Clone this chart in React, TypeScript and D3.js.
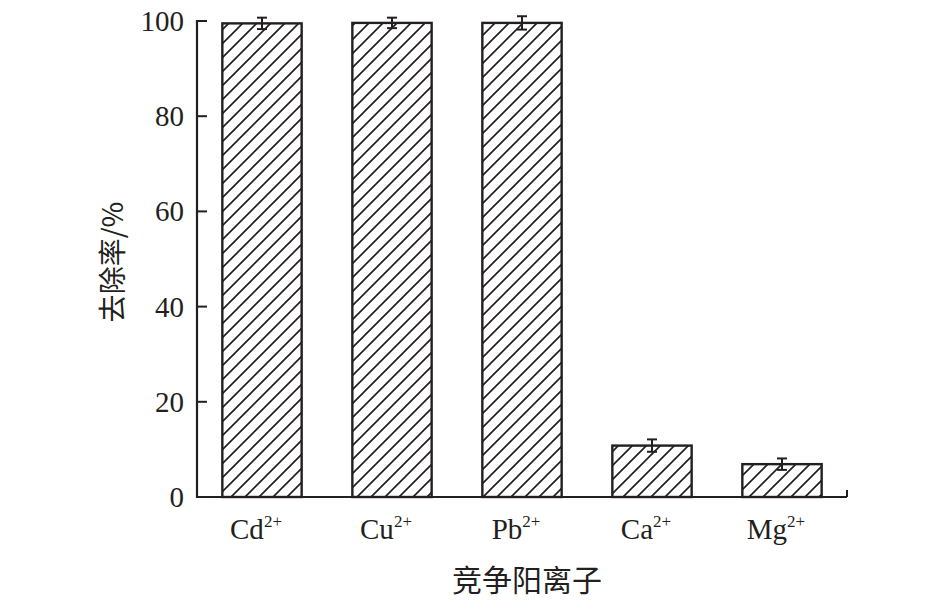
import React from "react";
import * as d3 from "d3";

const categories = ["Cd", "Cu", "Pb", "Ca", "Mg"];
const removal = [99.5, 99.6, 99.6, 10.8, 6.9];
const errors = [1.2, 1.1, 1.4, 1.3, 1.2];
const yTicks = [0, 20, 40, 60, 80, 100];

const W = 945;
const H = 606;
const left = 197;
const right = 847;
const top = 21;
const bottom = 497;
const ink = "#231f20";
const serif = "'Liberation Serif', 'Times New Roman', serif";
const cjk = "'Noto Sans CJK SC', 'Liberation Serif', serif";

export default function App() {
  const x = d3.scaleBand<string>().domain(categories).range([left, right]).paddingInner(0.39).paddingOuter(0.195);
  const y = d3.scaleLinear().domain([0, 100]).range([bottom, top]);
  return (
    <svg width={W} height={H} style={{ position: "absolute", left: 0, top: 0, background: "#fff" }}>
      <defs>
        <pattern id="hatch" patternUnits="userSpaceOnUse" width={14} height={14}>
          <path d="M0,14 L14,0 M-4,4 L4,-4 M10,18 L18,10" stroke={ink} strokeWidth={1.7} />
        </pattern>
      </defs>
      {categories.map((c, i) => {
        const bx = x(c)!;
        const bw = x.bandwidth();
        const cx = bx + bw / 2;
        return (
          <g key={c}>
            <rect x={bx} y={y(removal[i])} width={bw} height={bottom - y(removal[i])} fill="url(#hatch)" stroke={ink} strokeWidth={2.4} />
            <g stroke={ink} strokeWidth={2}>
              <line x1={cx} x2={cx} y1={y(removal[i] + errors[i])} y2={y(removal[i] - errors[i])} />
              <line x1={cx - 5} x2={cx + 5} y1={y(removal[i] + errors[i])} y2={y(removal[i] + errors[i])} />
              <line x1={cx - 5} x2={cx + 5} y1={y(removal[i] - errors[i])} y2={y(removal[i] - errors[i])} />
            </g>
            <text x={cx - 6} y={539} textAnchor="middle" fontFamily={serif} fontSize={29} fill={ink}>
              {c}
              <tspan fontSize={17} dy={-12}>2+</tspan>
            </text>
          </g>
        );
      })}
      <line x1={left} x2={left} y1={top - 1} y2={bottom + 1} stroke={ink} strokeWidth={2.2} />
      <line x1={left - 1} x2={right} y1={bottom} y2={bottom} stroke={ink} strokeWidth={2.2} />
      <line x1={right} x2={right} y1={bottom} y2={bottom - 7} stroke={ink} strokeWidth={2} />
      {yTicks.map((t) => (
        <g key={t}>
          <line x1={left} x2={left + 10} y1={y(t)} y2={y(t)} stroke={ink} strokeWidth={2} />
          <text x={184} y={y(t) + 10} textAnchor="end" fontFamily={serif} fontSize={29} fill={ink}>
            {t}
          </text>
        </g>
      ))}
      <text transform={`translate(123,262) rotate(-90)`} textAnchor="middle" fontFamily={cjk} fontSize={28} fill={ink}>
        去除率/%
      </text>
      <text x={527} y={591} textAnchor="middle" fontFamily={cjk} fontSize={30} fill={ink}>
        竞争阳离子
      </text>
    </svg>
  );
}
